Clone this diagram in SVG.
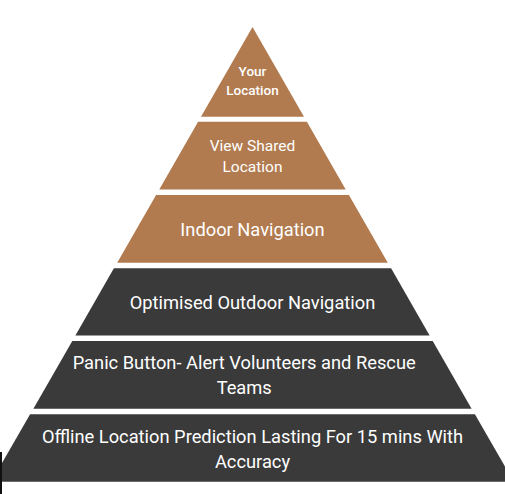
<svg xmlns="http://www.w3.org/2000/svg" width="505" height="494" viewBox="0 0 505 494">
<style>
.brown{fill:#B17B4F}
.dark{fill:#3A3A3A}
text{font-family:Roboto,"Liberation Sans",sans-serif;fill:#FFFFFF;text-anchor:middle}
.t1{font-size:13.5px;font-weight:500}
.t2{font-size:15.5px}
.t3{font-size:18.3px}
</style>
<rect x="0" y="0" width="505" height="494" fill="#FFFFFF"/>
<g id="layer1">
<polygon class="brown" points="252.5,27 304,116.7 201,116.7"/>
<text class="t1" x="252.5" y="76">Your</text>
<text class="t1" x="252.5" y="95">Location</text>
</g>
<g id="layer2">
<polygon class="brown" points="198.1,121.8 306.9,121.8 345.7,189.4 159.3,189.4"/>
<text class="t2" x="252.5" y="150.5">View Shared</text>
<text class="t2" x="252.5" y="172">Location</text>
</g>
<g id="layer3">
<polygon class="brown" points="156.1,195 348.9,195 387.8,262.7 117.2,262.7"/>
<text class="t3" x="252.5" y="235.5">Indoor Navigation</text>
</g>
<g id="layer4">
<polygon class="dark" points="113.9,268.3 391.1,268.3 429.6,335.6 75.4,335.6"/>
<text class="t3" x="252.5" y="309">Optimised Outdoor Navigation</text>
</g>
<g id="layer5">
<polygon class="dark" points="72.3,341 432.7,341 471.6,408.8 33.4,408.8"/>
<text class="t3" x="244.2" y="368.8">Panic Button- Alert Volunteers and Rescue</text>
<text class="t3" x="244.2" y="393.5">Teams</text>
</g>
<g id="layer6">
<polygon class="dark" points="30.1,414.3 474.9,414.3 513.8,481.7 -8.8,481.7"/>
<text class="t3" x="252.5" y="443.3">Offline Location Prediction Lasting For 15 mins With</text>
<text class="t3" x="252.5" y="467.5">Accuracy</text>
</g>
<g id="connectors"></g>
<rect x="0" y="452" width="2" height="42" fill="#111111"/>
</svg>
